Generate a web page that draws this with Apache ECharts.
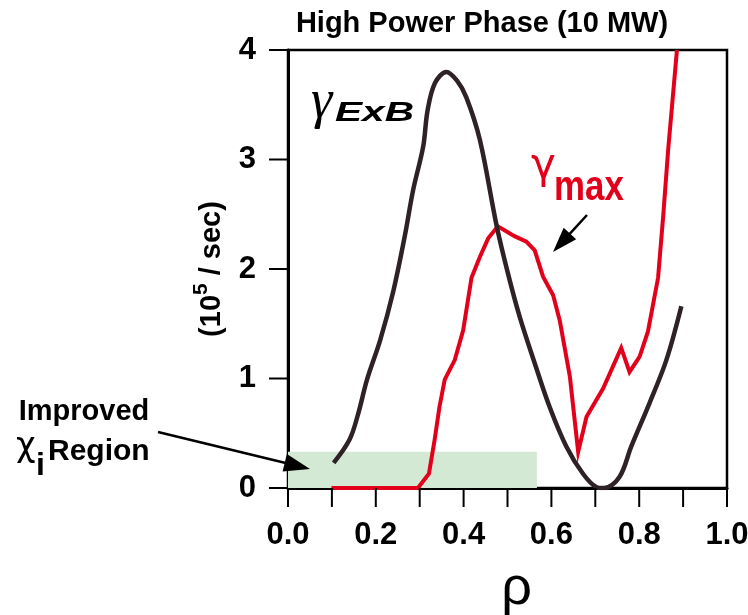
<!DOCTYPE html>
<html>
<head>
<meta charset="utf-8">
<script src="https://cdn.jsdelivr.net/npm/echarts@6/dist/echarts.min.js"></script>
<style>html,body{margin:0;padding:0;background:#fff}#c{width:748px;height:615px}</style>
</head>
<body>
<div id="c"></div>
<script>
// gamma_ExB curve (rho, 10^5/sec)
const exbRho   = [0.104,0.14,0.16,0.18,0.21,0.24,0.266,0.285,0.308,0.318,0.335,0.361,0.385,0.406,0.437,0.475,0.501,0.528,0.562,0.596,0.634,0.672,0.702,0.72,0.755,0.782,0.824,0.862,0.896];
const exbGamma = [0.23,0.44,0.68,0.99,1.35,1.8,2.30,2.72,3.12,3.45,3.70,3.80,3.72,3.57,3.18,2.40,1.96,1.56,1.14,0.74,0.38,0.13,0.01,0.0,0.10,0.38,0.78,1.17,1.66];
// gamma_max curve
const maxRho   = [0.099,0.296,0.321,0.334,0.345,0.357,0.380,0.399,0.418,0.437,0.456,0.478,0.516,0.543,0.562,0.581,0.604,0.619,0.642,0.661,0.680,0.718,0.759,0.778,0.801,0.820,0.843,0.855,0.866,0.886];
const maxGamma = [0,0,0.13,0.44,0.74,0.99,1.17,1.44,1.92,2.11,2.28,2.39,2.30,2.25,2.17,1.93,1.76,1.53,1.02,0.33,0.65,0.91,1.28,1.06,1.20,1.43,1.92,2.5,3.09,4.0];
// improved chi_i region
const regionRho = [0, 0.567];
const regionGamma = [0, 0.33];
// axes
const xMin = 0, xMax = 1, xStep = 0.1;
const yMin = 0, yMax = 4, yStep = 1;
const xTickVals = [0, 0.1, 0.2, 0.3, 0.4, 0.5, 0.6, 0.7, 0.8, 0.9, 1.0];
const yTickVals = [0, 1, 2, 3, 4];

const SANS = "'Liberation Sans', Arial, Helvetica, sans-serif";
const BLACK = '#2e2227';
const RED = '#e2001a';
const TICK_LEN = 19;

function arrow(x1, y1, x2, y2, hl, hw, color) {
  const dx = x2 - x1, dy = y2 - y1, L = Math.hypot(dx, dy);
  const ux = dx / L, uy = dy / L, px = -uy, py = ux;
  const bx = x2 - ux * hl, by = y2 - uy * hl;
  return [
    {type: 'line', shape: {x1: x1, y1: y1, x2: bx + ux * 2, y2: by + uy * 2}, style: {stroke: color, lineWidth: 2.5}, z: 100},
    {type: 'polygon', shape: {points: [[x2, y2], [bx + px * hw, by + py * hw], [bx - px * hw, by - py * hw]]}, style: {fill: color}, z: 100}
  ];
}
function txt(x, y, text, font, fill, align, sx) {
  return {type: 'text', x: x, y: y, scaleX: sx || 1, z: 100,
    style: {text: text, font: font, fill: fill || '#000', textAlign: align || 'left', textVerticalAlign: 'top'}};
}

const chart = echarts.init(document.getElementById('c'), null, {renderer: 'canvas'});
const option = {
  animation: false,
  backgroundColor: '#fff',
  grid: {left: 288, top: 50, width: 439, height: 438, outerBoundsMode: 'none', containLabel: false,
    show: true, borderColor: '#000', borderWidth: 2.5, backgroundColor: 'transparent'},
  xAxis: {
    type: 'value', min: xMin, max: xMax, interval: xStep,
    name: 'ρ', nameLocation: 'middle', nameGap: 74,
    nameTextStyle: {fontSize: 54, fontFamily: SANS, color: '#000', padding: [0, 0, 0, 18]},
    axisLine: {show: true, onZero: false, lineStyle: {color: '#000', width: 3}},
    axisTick: {show: false},
    axisLabel: {margin: 32, fontSize: 31, fontWeight: 'bold', fontFamily: SANS, color: '#000',
      formatter: v => (Math.round(v * 10) % 2 === 0 ? v.toFixed(1) : '')},
    splitLine: {show: false}
  },
  yAxis: {
    type: 'value', min: yMin, max: yMax, interval: yStep,
    name: '{a|(10}{s|5}{a| / sec)}', nameLocation: 'middle', nameGap: 62, nameRotate: 90,
    nameTextStyle: {color: '#000', rich: {
      a: {fontSize: 29, fontWeight: 'bold', fontFamily: SANS, color: '#000', verticalAlign: 'bottom', lineHeight: 35},
      s: {fontSize: 21, fontWeight: 'bold', fontFamily: SANS, color: '#000', verticalAlign: 'top', lineHeight: 35}
    }},
    axisLine: {show: true, onZero: false, lineStyle: {color: '#000', width: 3}},
    axisTick: {show: false},
    axisLabel: {margin: 32, fontSize: 31, fontWeight: 'bold', fontFamily: SANS, color: '#000'},
    splitLine: {show: false}
  },
  series: [
    {
      type: 'line', name: 'region', data: [], silent: true, z: 1,
      markArea: {silent: true, itemStyle: {color: '#d4e9d4', opacity: 1},
        data: [[{coord: [regionRho[0], regionGamma[0]]}, {coord: [regionRho[1], regionGamma[1]]}]]}
    },
    {
      type: 'line', name: 'γmax', data: maxRho.map((r, i) => [r, maxGamma[i]]),
      showSymbol: false, symbol: 'none', smooth: false, clip: true, z: 3,
      lineStyle: {color: RED, width: 4, join: 'miter'}
    },
    {
      type: 'line', name: 'γExB', data: exbRho.map((r, i) => [r, exbGamma[i]]),
      showSymbol: false, symbol: 'none', smooth: 0.35, clip: true, z: 4,
      lineStyle: {color: BLACK, width: 4.5}
    },
    {
      type: 'custom', name: 'xticks', silent: true, clip: false, z: 5,
      data: xTickVals.map(v => [v, yMin]),
      renderItem: function (params, api) {
        const p = api.coord([api.value(0), api.value(1)]);
        return {type: 'line', shape: {x1: p[0], y1: p[1], x2: p[0], y2: p[1] + TICK_LEN}, style: {stroke: '#000', lineWidth: 2}};
      }
    },
    {
      type: 'custom', name: 'yticks', silent: true, clip: false, z: 5,
      data: yTickVals.map(v => [xMin, v]),
      renderItem: function (params, api) {
        const p = api.coord([api.value(0), api.value(1)]);
        return {type: 'line', shape: {x1: p[0] - TICK_LEN, y1: p[1], x2: p[0], y2: p[1]}, style: {stroke: '#000', lineWidth: 2}};
      }
    }
  ],
  graphic: [
    {type: 'text', x: 482, y: 24, z: 100, style: {text: 'High Power Phase (10 MW)', font: "bold 29px " + SANS, fill: '#000', textAlign: 'center', textVerticalAlign: 'middle'}},
    // gamma ExB label
    txt(311, 76, 'γ', "italic 54px 'Liberation Serif', 'DejaVu Serif', serif"),
    txt(335, 99.5, 'ExB', "italic bold 28px " + SANS, '#000', 'left', 1.45),
    // gamma max label
    txt(531, 146, 'γ', "42px 'DejaVu Sans', sans-serif", RED),
    txt(554, 167.5, 'max', "bold 42px " + SANS, RED, 'left', 0.83),
    // improved chi_i region label
    txt(84, 397.5, 'Improved', "bold 29px " + SANS, '#000', 'center'),
    txt(16, 430, 'χ', "34px 'DejaVu Sans', sans-serif"),
    txt(36, 450, 'i', "bold 32px " + SANS),
    txt(48, 436.5, 'Region', "bold 30px " + SANS)
  ].concat(arrow(158, 432, 310, 469, 26, 9, '#000'))
   .concat(arrow(587, 215, 553, 252, 25, 8.5, '#000'))
};
chart.setOption(option);
</script>
</body>
</html>
